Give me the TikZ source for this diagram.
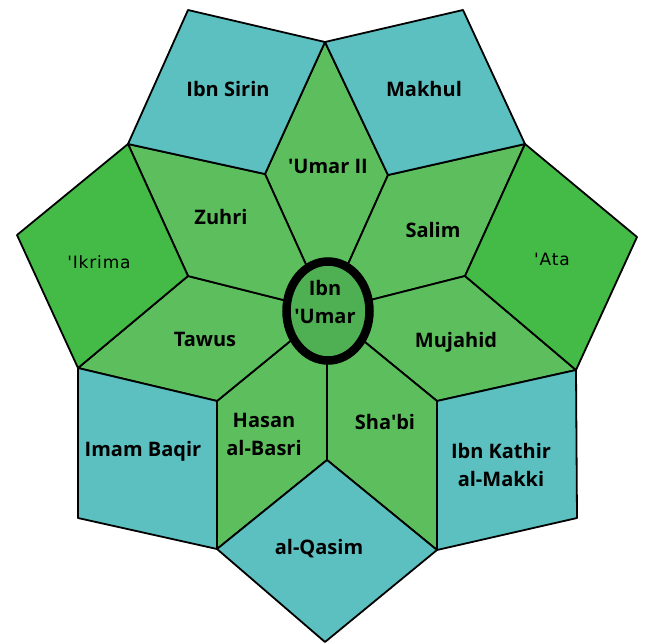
\documentclass[tikz,border=0pt]{standalone}
\usepackage{fontspec}
\setmainfont{Open Sans}[Ligatures=TeXOff]
\newfontfamily\spacedfont{DejaVu Sans}[LetterSpace=5,Ligatures=TeXOff]
\definecolor{teal}{RGB}{91,192,191}
\definecolor{deepgreen}{RGB}{67,187,70}
\definecolor{midgreen}{RGB}{92,190,93}
\definecolor{coregreen}{RGB}{78,176,82}
\begin{document}
\begin{tikzpicture}[x=1pt,y=-1pt,
  tile/.style={draw=black,line width=1.8pt,line join=round},
  lbl/.style={font=\fontsize{20}{28}\selectfont\bfseries,align=center,inner sep=0pt},
  thinlbl/.style={font=\fontsize{17}{20}\selectfont\spacedfont,text=black,inner sep=0pt}]
\useasboundingbox (0,0) rectangle (645,643);
% centre and spoke vertices
\coordinate (o) at (327,311);
\coordinate (s1) at (265,174); \coordinate (s2) at (388,175);
\coordinate (s3) at (465,276); \coordinate (s4) at (437,401);
\coordinate (s5) at (327,460); \coordinate (s6) at (217,401);
\coordinate (s7) at (188,276);
% tips of inner rhombi
\coordinate (t1) at (325,42);  \coordinate (t2) at (525,144);
\coordinate (t3) at (576,370); \coordinate (t4) at (437,550);
\coordinate (t5) at (217,549); \coordinate (t6) at (78,368);
\coordinate (t7) at (128,144);
% outer corners
\coordinate (u1) at (188,10);  \coordinate (u2) at (463,10);
\coordinate (u3) at (637,237); \coordinate (u4) at (577,518);
\coordinate (u5) at (325,642); \coordinate (u6) at (78,518);
\coordinate (u7) at (17,235);
% inner rhombi
\foreach \a/\b/\c in {s1/t1/s2,s2/t2/s3,s3/t3/s4,s4/t4/s5,s5/t5/s6,s6/t6/s7,s7/t7/s1}
  \filldraw[tile,fill=midgreen] (o) -- (\a) -- (\b) -- (\c) -- cycle;
% outer ring
\filldraw[tile,fill=teal] (t7) -- (u1) -- (t1) -- (s1) -- cycle;
\filldraw[tile,fill=teal] (t1) -- (u2) -- (t2) -- (s2) -- cycle;
\filldraw[tile,fill=deepgreen] (t2) -- (u3) -- (t3) -- (s3) -- cycle;
\filldraw[tile,fill=teal] (t3) -- (u4) -- (t4) -- (s4) -- cycle;
\filldraw[tile,fill=teal] (t4) -- (u5) -- (t5) -- (s5) -- cycle;
\filldraw[tile,fill=teal] (t5) -- (u6) -- (t6) -- (s6) -- cycle;
\filldraw[tile,fill=deepgreen] (t6) -- (u7) -- (t7) -- (s7) -- cycle;
% centre ring
\filldraw[draw=black,line width=8.5pt,fill=coregreen] (328,311) ellipse [x radius=41.5, y radius=49.5];
% labels
\node[lbl] (sirin) at (228,89) {Ibn Sirin};
\node[lbl] (makhul) at (424,89) {Makhul};
\node[lbl] (umar2) at (328,166) {'Umar II};
\node[lbl] (zuhri) at (221,217) {Zuhri};
\node[lbl] (salim) at (433,230) {Salim};
\node[thinlbl] (ikrima) at (99,262) {'Ikrima};
\node[thinlbl] (ata) at (552,259) {'Ata};
\node[lbl] (ibnumar) at (325,302) {Ibn\\'Umar};
\node[lbl] (tawus) at (205,339) {Tawus};
\node[lbl] (mujahid) at (456,342) {Mujahid};
\node[lbl] (hasan) at (264,434) {Hasan\\al-Basri};
\node[lbl] (shabi) at (385,422) {Sha'bi};
\node[lbl] (baqir) at (143,451) {Imam Baqir};
\node[lbl] (kathir) at (501,465) {Ibn Kathir\\al-Makki};
\node[lbl] (qasim) at (319,549) {al-Qasim};
\end{tikzpicture}
\end{document}
